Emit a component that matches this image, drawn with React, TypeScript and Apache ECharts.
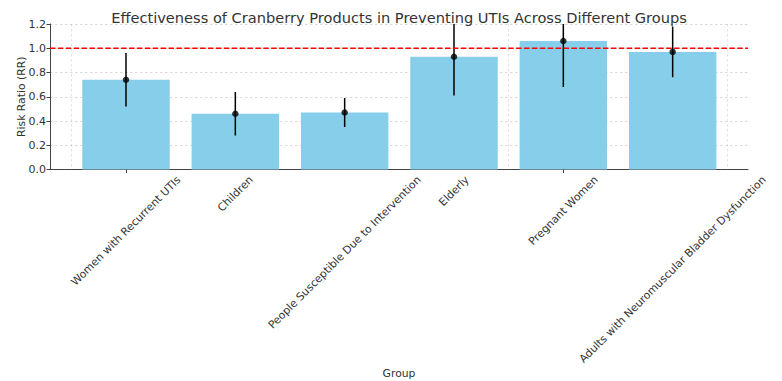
import React, { useEffect, useRef } from "react";
import * as echarts from "echarts";

const groups = [
  "Women with Recurrent UTIs",
  "Children",
  "People Susceptible Due to Intervention",
  "Elderly",
  "Pregnant Women",
  "Adults with Neuromuscular Bladder Dysfunction",
];
const riskRatios = [0.74, 0.46, 0.47, 0.93, 1.06, 0.97];
const ciLower = [0.52, 0.28, 0.35, 0.61, 0.68, 0.76];
const ciUpper = [0.96, 0.64, 0.59, 1.25, 1.44, 1.18];
const yMin = 0;
const yMax = 1.2;
const yStep = 0.2;
const referenceRR = 1.0;

const FONT = "'DejaVu Sans', 'Liberation Sans', sans-serif";
const TEXT = "#333333";

function measure(text: string, size: number): number {
  const c = document.createElement("canvas");
  const ctx = c.getContext("2d");
  if (!ctx) return text.length * size * 0.58;
  ctx.font = `${size}px 'DejaVu Sans'`;
  return ctx.measureText(text).width;
}

export default function App() {
  const ref = useRef<HTMLDivElement>(null);
  useEffect(() => {
    if (!ref.current) return;
    const chart = echarts.init(ref.current, undefined, { renderer: "svg" });
    const labelSize = 10.8;
    const labelWidths = groups.map((g) => measure(g, labelSize));
    const top = 24;
    const bottom = 211.5;
    const option: any = {
      animation: false,
      backgroundColor: "#ffffff",
      textStyle: { fontFamily: FONT },
      title: {
        text: "Effectiveness of Cranberry Products in Preventing UTIs Across Different Groups",
        left: 394,
        top: 5,
        textAlign: "center",
        textStyle: { fontFamily: FONT, fontSize: 14.6, fontWeight: "normal", color: TEXT },
      },
      grid: [
        { left: 50, right: 34, top, bottom },
        { left: 71.33, right: 54.67, top, bottom },
      ],
      xAxis: [
        {
          type: "value",
          gridIndex: 0,
          min: 0,
          max: 1,
          axisLine: { show: true, onZero: false, lineStyle: { color: "#444", width: 1 } },
          axisTick: { show: false },
          axisLabel: { show: false },
          splitLine: { show: false },
          name: "Group",
          nameLocation: "middle",
          nameGap: 198,
          nameMoveOverlap: false,
          nameTextStyle: { fontFamily: FONT, fontSize: 10.8, color: TEXT },
        },
        {
          type: "category",
          gridIndex: 1,
          data: groups,
          z: 3,
          axisLine: { show: false },
          axisTick: {
            show: true,
            alignWithLabel: true,
            length: 3.5,
            lineStyle: { color: "#444", width: 1 },
          },
          axisLabel: { show: false },
          splitLine: {
            show: true,
            lineStyle: { color: "rgba(176,176,176,0.45)", type: [2.5, 2.5], width: 0.8 },
          },
        },
      ],
      yAxis: [
        {
          type: "value",
          gridIndex: 0,
          min: yMin,
          max: yMax,
          interval: yStep,
          axisLine: { show: true, lineStyle: { color: "#444", width: 1 } },
          axisTick: { show: true, length: 3.5, lineStyle: { color: "#444", width: 1 } },
          axisLabel: {
            fontFamily: FONT,
            fontSize: 11,
            color: TEXT,
            margin: 4,
            formatter: (v: number) => v.toFixed(1),
          },
          splitLine: {
            show: true,
            lineStyle: { color: "#d0d0d0", type: [2.5, 2.5], width: 0.8 },
          },
          name: "Risk Ratio (RR)",
          nameLocation: "middle",
          nameGap: 23,
          nameMoveOverlap: false,
          nameTextStyle: { fontFamily: FONT, fontSize: 10.8, color: TEXT },
        },
        {
          type: "value",
          gridIndex: 1,
          min: yMin,
          max: yMax,
          interval: yStep,
          show: false,
          splitLine: { show: false },
        },
      ],
      series: [
        {
          type: "bar",
          xAxisIndex: 1,
          yAxisIndex: 1,
          data: riskRatios,
          barWidth: "80%",
          itemStyle: { color: "#87CEEB" },
          z: 2,
        },
        {
          type: "custom",
          xAxisIndex: 1,
          yAxisIndex: 1,
          clip: true,
          z: 5,
          data: groups.map((_, i) => [i, ciLower[i], ciUpper[i]]),
          renderItem: (params: any, api: any) => {
            const i = api.value(0);
            const p1 = api.coord([i, api.value(1)]);
            const p2 = api.coord([i, api.value(2)]);
            return {
              type: "line",
              shape: { x1: p1[0], y1: p1[1], x2: p2[0], y2: p2[1] },
              style: { stroke: "#000", lineWidth: 1.5 },
            };
          },
        },
        {
          type: "scatter",
          xAxisIndex: 1,
          yAxisIndex: 1,
          data: riskRatios,
          symbol: "circle",
          symbolSize: 6.5,
          itemStyle: { color: "#000" },
          z: 6,
        },
        {
          type: "line",
          xAxisIndex: 0,
          yAxisIndex: 0,
          data: [
            [0, referenceRR],
            [1, referenceRR],
          ],
          symbol: "none",
          lineStyle: { color: "#ff0000", width: 1.5, type: [5.5, 2.4] },
          z: 7,
          silent: true,
        },
        {
          type: "custom",
          xAxisIndex: 1,
          yAxisIndex: 1,
          clip: false,
          z: 4,
          silent: true,
          data: groups.map((_, i) => [i, 0]),
          renderItem: (params: any, api: any) => {
            const i = api.value(0);
            const idx = params.dataIndex;
            const p = api.coord([i, 0]);
            const w = labelWidths[idx];
            const h = labelSize * 1.16;
            const half = (w + h) / (2 * Math.SQRT2);
            return {
              type: "text",
              x: p[0],
              y: p[1] + 4 + half,
              rotation: Math.PI / 4,
              style: {
                text: groups[idx],
                fontFamily: FONT,
                fontSize: labelSize,
                fill: TEXT,
                align: "center",
                verticalAlign: "middle",
              },
            };
          },
        },
      ],
    };
    chart.setOption(option);
    return () => chart.dispose();
  }, []);
  return (
    <div
      ref={ref}
      style={{ position: "fixed", left: 0, top: 0, width: 782, height: 381 }}
    />
  );
}
